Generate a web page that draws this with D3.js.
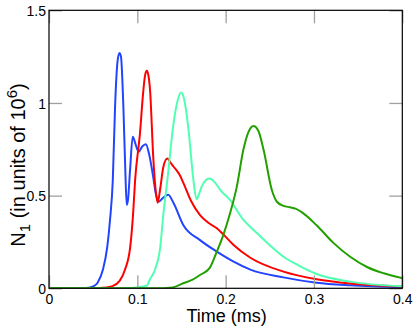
<!DOCTYPE html>
<html><head><meta charset="utf-8">
<script src="https://cdn.jsdelivr.net/npm/d3@7"></script>
<style>
html,body{margin:0;padding:0;background:#fff;}
svg{display:block;font-family:"Liberation Sans",Arial,Helvetica,sans-serif;}
</style></head>
<body><svg id="chart" width="415" height="327"></svg>
<script>
// ---- data (time in ms, N1 in units of 10^6) ----
const blueT = [0,0.03,0.045,0.050,0.055,0.061,0.066,0.0691,0.0722,0.0748,0.0775,0.0797,0.0815,0.0842,0.0865,0.088,0.0895,0.0918,0.0948,0.0985,0.1015,0.1055,0.1096,0.1135,0.118,0.121,0.124,0.1295,0.135,0.141,0.152,0.171,0.19,0.209,0.228,0.2655,0.303,0.341,0.4];
const blueN = [0,0,0.003,0.01,0.03,0.1,0.225,0.37,0.58,0.98,1.22,1.27,1.25,0.98,0.62,0.45,0.48,0.64,0.818,0.77,0.737,0.765,0.777,0.72,0.60,0.51,0.467,0.49,0.505,0.46,0.342,0.26,0.198,0.144,0.101,0.059,0.03,0.016,0.005];

const redT = [0,0.05,0.065,0.071,0.08,0.086,0.092,0.0952,0.0975,0.103,0.1065,0.1088,0.1107,0.1125,0.1144,0.118,0.1205,0.123,0.126,0.1295,0.134,0.138,0.143,0.148,0.152,0.161,0.171,0.18,0.19,0.1975,0.209,0.228,0.2655,0.303,0.341,0.4];
const redN = [0,0,0.004,0.01,0.04,0.1,0.225,0.40,0.584,0.836,1.05,1.15,1.174,1.15,1.07,0.71,0.54,0.462,0.54,0.656,0.70,0.675,0.645,0.611,0.57,0.47,0.395,0.355,0.324,0.29,0.234,0.165,0.09,0.049,0.026,0.01];

const aquaT = [0,0.08,0.1,0.111,0.1144,0.120,0.126,0.1295,0.134,0.141,0.146,0.1496,0.153,0.158,0.1635,0.167,0.17,0.173,0.1815,0.188,0.194,0.205,0.22,0.235,0.2505,0.2655,0.284,0.303,0.341,0.4];
const aquaN = [0,0,0.005,0.015,0.05,0.1,0.225,0.40,0.584,0.89,1.02,1.056,1.02,0.854,0.584,0.48,0.51,0.55,0.592,0.57,0.53,0.476,0.37,0.30,0.23,0.17,0.12,0.077,0.036,0.011];

const greenT = [0,0.12,0.14,0.152,0.162,0.171,0.182,0.19,0.1975,0.205,0.2127,0.220,0.226,0.2315,0.237,0.243,0.2523,0.258,0.2655,0.273,0.279,0.2865,0.303,0.322,0.341,0.36,0.379,0.4];
const greenN = [0,0,0.005,0.027,0.045,0.072,0.11,0.198,0.29,0.405,0.55,0.746,0.845,0.876,0.85,0.746,0.53,0.467,0.445,0.437,0.43,0.41,0.34,0.245,0.17,0.115,0.081,0.055];

const xTicks = [0,0.1,0.2,0.3,0.4];
const xTickLabels = ["0","0.1","0.2","0.3","0.4"];
const yTicks = [0,0.5,1,1.5];
const yTickLabels = ["0","0.5","1","1.5"];

const series = [
  {t: blueT, n: blueN, color: "#2244ff"},
  {t: redT, n: redN, color: "#ff0000"},
  {t: aquaT, n: aquaN, color: "#50ffb0"},
  {t: greenT, n: greenN, color: "#22a000"}
];

// ---- layout ----
const svg = d3.select("#chart");
const L = 49, T = 10.3, R = 402.3, B = 288.3;
const x = d3.scaleLinear().domain([0,0.4]).range([L,R]);
const y = d3.scaleLinear().domain([0,1.5]).range([B,T]);

svg.append("clipPath").attr("id","clip").append("rect")
  .attr("x",L).attr("y",T).attr("width",R-L).attr("height",B-T);

// lines
const line = d3.line().x(d=>x(d[0])).y(d=>y(d[1])).curve(d3.curveMonotoneX);
const g = svg.append("g").attr("clip-path","url(#clip)");
series.forEach(s=>{
  g.append("path").datum(s.t.map((t,i)=>[t,s.n[i]]))
    .attr("d",line).attr("fill","none").attr("stroke",s.color)
    .attr("stroke-width",2).attr("stroke-linejoin","round");
});

// ticks (inside, gray, mirrored)
const tickLen = 13, tickCol = "#a0a0a0";
const axB = svg.append("g").attr("transform",`translate(0,${B})`)
  .call(d3.axisBottom(x).tickValues(xTicks).tickSize(-tickLen).tickFormat((d,i)=>xTickLabels[i]));
const axT = svg.append("g").attr("transform",`translate(0,${T})`)
  .call(d3.axisTop(x).tickValues(xTicks).tickSize(-tickLen).tickFormat(""));
const axL = svg.append("g").attr("transform",`translate(${L},0)`)
  .call(d3.axisLeft(y).tickValues(yTicks).tickSize(-tickLen).tickFormat((d,i)=>yTickLabels[i]));
const axR = svg.append("g").attr("transform",`translate(${R},0)`)
  .call(d3.axisRight(y).tickValues(yTicks).tickSize(-tickLen).tickFormat(""));
[axB,axT,axL,axR].forEach(a=>{
  a.select(".domain").remove();
  a.selectAll(".tick line").attr("stroke",tickCol).attr("stroke-width",1.3);
  a.selectAll("text").attr("fill","#000").attr("font-size",14)
    .attr("font-family","'Liberation Sans',Arial,sans-serif");
});
axB.selectAll(".tick text").attr("dy",null).attr("y",15.5);
axL.selectAll(".tick text").attr("x",-3).attr("dy","0.36em");

// frame
svg.append("rect").attr("x",L).attr("y",T).attr("width",R-L).attr("height",B-T)
  .attr("fill","none").attr("stroke","#000").attr("stroke-width",1.2);

// axis titles
svg.append("text").attr("x",(L+R)/2+1).attr("y",322).attr("text-anchor","middle")
  .attr("font-size",18).text("Time (ms)");

const yl = svg.append("text").attr("transform","translate(25,165) rotate(-90)")
  .attr("text-anchor","middle").attr("font-size",20);
yl.append("tspan").text("N");
yl.append("tspan").attr("font-size",15).attr("dy",5).text("1");
yl.append("tspan").attr("dy",-5).text(" (in units of 10");
yl.append("tspan").attr("font-size",15).attr("dy",-8).text("6");
yl.append("tspan").attr("dy",8).text(")");
</script></body></html>
